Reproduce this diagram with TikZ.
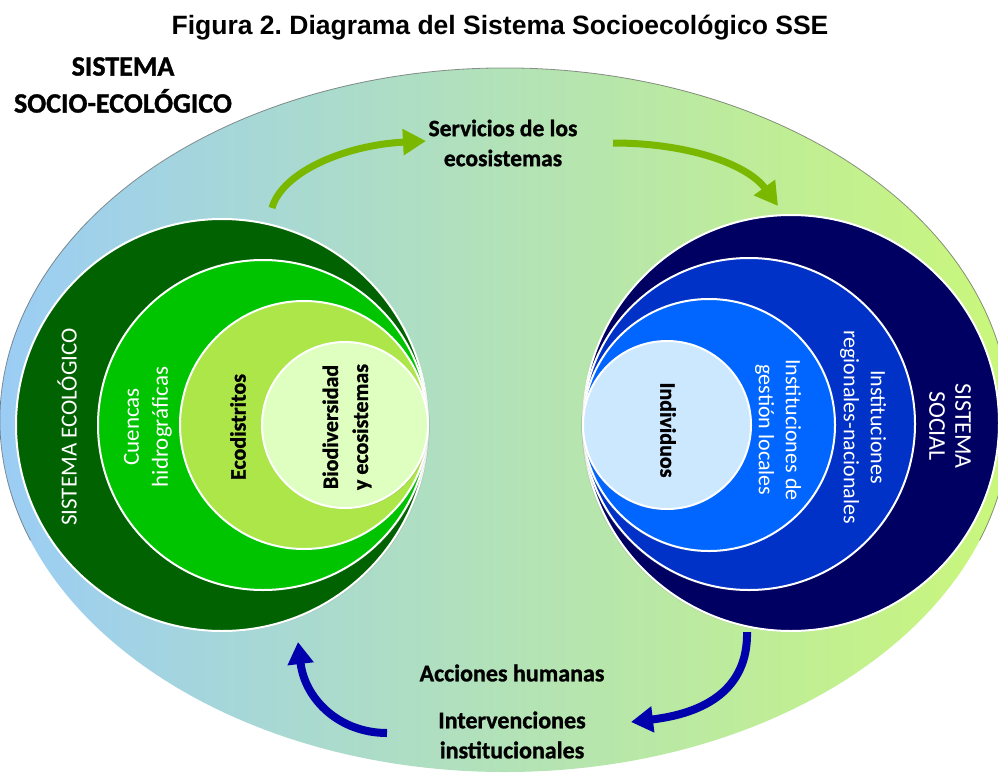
\documentclass[tikz,border=0pt]{standalone}
\usepackage{fontspec}
\setmainfont{Carlito}
\newfontfamily\heavyfont{Carlito}[BoldFeatures={FakeBold=1.2}]
\newfontfamily\titlefont{Liberation Sans}
\usetikzlibrary{arrows.meta,shapes.geometric,shadows}

\definecolor{ellL}{RGB}{155,205,245}
\definecolor{ellM}{RGB}{178,228,205}
\definecolor{ellR}{RGB}{202,247,122}
\definecolor{ecoA}{RGB}{0,98,0}
\definecolor{ecoB}{RGB}{0,196,0}
\definecolor{ecoC}{RGB}{172,230,72}
\definecolor{ecoD}{RGB}{222,255,192}
\definecolor{socA}{RGB}{0,0,98}
\definecolor{socB}{RGB}{0,50,200}
\definecolor{socC}{RGB}{0,102,255}
\definecolor{socD}{RGB}{204,232,255}
\definecolor{arrowgreen}{RGB}{122,184,0}
\definecolor{arrowblue}{RGB}{0,0,172}

\begin{document}
\begin{tikzpicture}[x=1pt,y=-1pt,
  ringL/.style={circle, inner sep=0pt, draw=white, line width=2pt,
    drop shadow={opacity=0.2, shadow xshift=1.5pt, shadow yshift=-1pt}},
  ringR/.style={circle, inner sep=0pt, draw=white, line width=2pt,
    drop shadow={opacity=0.2, shadow xshift=-1.5pt, shadow yshift=-1pt}},
  wtext/.style={text=white, font=\fontsize{22}{28}\selectfont, align=center, inner sep=0pt},
  btext/.style={text=black, font=\heavyfont\bfseries\fontsize{22}{30}\selectfont, align=center, inner sep=0pt},
  ltext/.style={text=black, font=\heavyfont\bfseries\fontsize{24}{30}\selectfont, align=center, inner sep=0pt},
  garrow/.style={draw=arrowgreen, line width=7pt, -{Triangle[length=23pt,width=25pt]}},
  barrow/.style={draw=arrowblue, line width=8pt, -{Triangle[length=22pt,width=25pt]}}
]
\useasboundingbox (0,0) rectangle (998,779);

% big ellipse
\node[ellipse, minimum width=1010pt, minimum height=704pt, inner sep=0pt,
  left color=ellL, middle color=ellM, right color=ellR] (sse) at (505,420) {};
\draw[black!70, line width=0.8pt, opacity=0.6]
  ([shift={(160:505 and 352)}]sse.center) arc[start angle=160, end angle=380, x radius=505, y radius=352];

% title
\node[font=\titlefont\bfseries\fontsize{26.5}{30}\selectfont, inner sep=0pt] (title) at (500,28)
  {Figura 2.\ Diagrama del Sistema Socioecológico SSE};

% top-left label
\node[font=\heavyfont\bfseries\fontsize{28}{37}\selectfont, align=center, inner sep=0pt] (ssetext) at (123,85)
  {SISTEMA\\SOCIO-ECOLÓGICO};

% ecological circles
\node[ringL, fill=ecoA, minimum size=412pt] (eco1) at (222,425) {};
\node[ringL, fill=ecoB, minimum size=330pt] (eco2) at (263,425) {};
\node[ringL, fill=ecoC, minimum size=248pt] (eco3) at (304,425) {};
\node[ringL, fill=ecoD, minimum size=166pt] (eco4) at (345,425) {};

% social circles
\node[ringR, fill=socA, minimum size=416pt] (soc1) at (791,423) {};
\node[ringR, fill=socB, minimum size=332pt] (soc2) at (749,424) {};
\node[ringR, fill=socC, minimum size=252pt] (soc3) at (709,425) {};
\node[ringR, fill=socD, minimum size=168pt] (soc4) at (667,425) {};

% ecological texts
\node[wtext, rotate=90, font=\fontsize{23}{28}\selectfont] (t-eco1) at (67,427) {SISTEMA ECOLÓGICO};
\node[wtext, rotate=90, font=\fontsize{23}{29}\selectfont] (t-eco2) at (148,427) {Cuencas\\hidrográficas};
\node[btext, rotate=90] (t-eco3) at (238,427) {Ecodistritos};
\node[btext, rotate=90] (t-eco4) at (347,427) {Biodiversidad\\y ecosistemas};

% social texts
\node[wtext, rotate=-90, font=\fontsize{24}{26}\selectfont] (t-soc1) at (950,426) {SISTEMA\\SOCIAL};
\node[wtext, rotate=-90, font=\fontsize{22}{27}\selectfont] (t-soc2) at (863,427) {Instituciones\\regionales-nacionales};
\node[wtext, rotate=-90, font=\fontsize{22}{27}\selectfont] (t-soc3) at (778,430) {Instituciones de\\gestión locales};
\node[btext, rotate=-90] (t-soc4) at (668,430) {Individuos};

% flow labels
\node[ltext, font=\heavyfont\bfseries\fontsize{23.5}{30}\selectfont] (serv) at (503,143) {Servicios de los\\ecosistemas};
\node[ltext] (acc) at (512,673) {Acciones humanas};
\node[ltext] (interv) at (512,735) {Intervenciones\\institucionales};

% arrows
\coordinate (g1s) at (272,208);
\coordinate (g1e) at (426,141);
\coordinate (g2s) at (613,143);
\coordinate (g2e) at (778,206);
\coordinate (b1s) at (747,632);
\coordinate (b1e) at (631,722);
\coordinate (b2s) at (387,733);
\coordinate (b2e) at (298,642);

\draw[garrow] (g1s) .. controls (282,172) and (345,145) .. (g1e);
\draw[garrow] (g2s) .. controls (690,143) and (748,165) .. (g2e);
\draw[barrow] (b1s) .. controls (748,682) and (715,712) .. (b1e);
\draw[barrow] (b2s) .. controls (340,733) and (305,700) .. (b2e);
\end{tikzpicture}
\end{document}
